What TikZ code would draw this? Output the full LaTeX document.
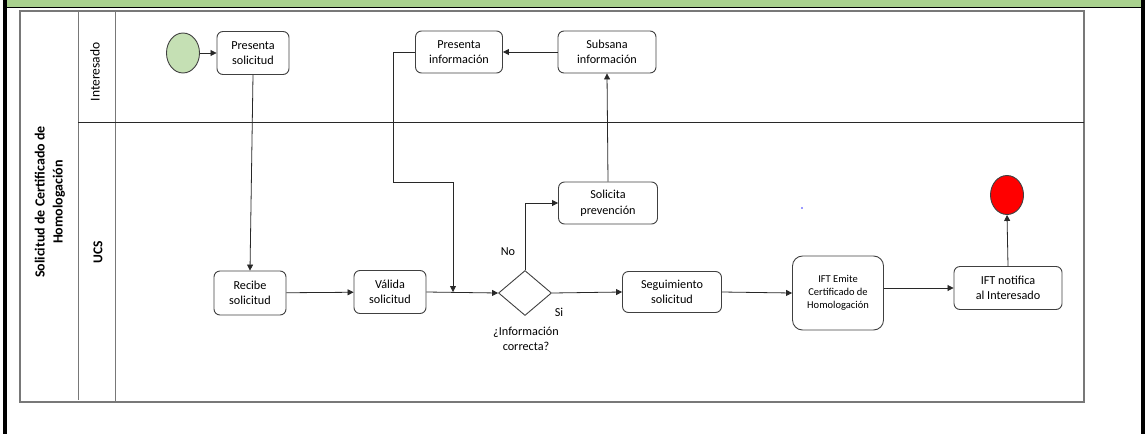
\documentclass[tikz,border=0pt]{standalone}
\usepackage{fontspec}
\setmainfont{Carlito}
\usetikzlibrary{shapes.geometric,arrows.meta}
\definecolor{greenbar}{RGB}{169,209,142}
\definecolor{startgreen}{RGB}{197,224,180}
\definecolor{boxgray}{RGB}{64,64,64}
\definecolor{poolgray}{RGB}{120,120,120}
\definecolor{linegray}{RGB}{40,40,40}
\tikzset{
  task/.style={draw=boxgray, line width=0.9pt, rounded corners=6pt, align=center,
    font=\fontsize{12.2}{15.5}\selectfont, inner sep=0pt},
  smalltask/.style={task, font=\fontsize{10.5}{13.2}\selectfont, rounded corners=10pt},
  conn/.style={draw=linegray, line width=0.8pt, -{Triangle[length=6pt,width=6pt]}},
  lbl/.style={font=\fontsize{12.2}{15}\selectfont, align=center, inner sep=0pt},
}
\begin{document}
\begin{tikzpicture}[x=1pt,y=-1pt]
\useasboundingbox (0,0) rectangle (1145,434);
% frame
\fill[greenbar] (7,0) rectangle (1141,7);
\draw[black, line width=1.3pt] (7,7.3) -- (1141,7.3);
\fill[black] (3,0) rectangle (7,434);
\fill[black] (1141,0) rectangle (1144.5,434);
% pool
\draw[poolgray, line width=1.2pt] (20,11) rectangle (1084,402);
\draw[poolgray, line width=1pt] (78,11) -- (78,400);
\draw[poolgray, line width=1pt] (115,11) -- (115,402);
\draw[linegray, line width=0.9pt] (78,122) -- (1084,122);
\node[rotate=90, font=\bfseries\fontsize{14}{18}\selectfont, align=center] (pool) at (50,202) {Solicitud de Certificado de\\Homologación};
\node[rotate=90, lbl, font=\fontsize{13.5}{15}\selectfont] (lane1) at (95,72) {Interesado};
\node[rotate=90, lbl, font=\bfseries\fontsize{13.5}{15}\selectfont] (lane2) at (98,252) {UCS};
% nodes
\node[ellipse, draw=boxgray, line width=0.9pt, fill=startgreen, minimum width=33pt, minimum height=40pt, inner sep=0pt] (start) at (183,53) {};
\node[task, minimum width=72pt, minimum height=43pt] (psol) at (253,53) {Presenta\\solicitud};
\node[task, minimum width=87pt, minimum height=42pt] (pinf) at (459,52) {Presenta\\información};
\node[task, minimum width=98pt, minimum height=42pt] (sinf) at (607,52) {Subsana\\información};
\node[task, minimum width=99pt, minimum height=42pt] (sprev) at (608,203) {Solicita\\prevención};
\node[task, minimum width=72pt, minimum height=44pt] (rsol) at (250,293) {Recibe\\solicitud};
\node[task, minimum width=72pt, minimum height=43pt] (vsol) at (390,292) {Válida\\solicitud};
\node[diamond, draw=boxgray, line width=0.9pt, minimum width=53pt, minimum height=45pt, inner sep=0pt] (dec) at (525,293) {};
\node[task, minimum width=99pt, minimum height=41pt] (seg) at (672,292) {Seguimiento\\solicitud};
\node[smalltask, minimum width=91pt, minimum height=74pt] (emite) at (838,293) {IFT Emite\\Certificado de\\Homologación};
\node[task, minimum width=108pt, minimum height=43pt] (notif) at (1008,288) {IFT notifica\\al Interesado};
\node[ellipse, draw=boxgray, line width=0.9pt, fill=red, minimum width=33pt, minimum height=39pt, inner sep=0pt] (end) at (1007,195) {};
\fill[blue!80] (802,208) circle (0.9);
% labels
\node[lbl] (no) at (508,252) {No};
\node[lbl] (si) at (559,312) {Si};
\node[lbl] (q) at (526,339) {¿Información\\correcta?};
% connectors
\coordinate (join) at (453,292);
\draw[conn] (start) -- (psol);
\draw[conn] (psol.south) -- (rsol.north);
\draw[conn] (rsol) -- (vsol);
\draw[conn] (vsol.east) -- (dec.west);
\draw[conn] (pinf.west) -- (393,52) -- (393,182) -- (453,182) -- (join);
\draw[conn] (dec.north) -- (525,203) -- (sprev.west);
\draw[conn] (sprev.north) -- (sinf.south);
\draw[conn] (sinf.west) -- (pinf.east);
\draw[conn] (dec.east) -- (seg.west);
\draw[conn] (seg.east) -- (emite.west);
\draw[conn] (emite.east |- notif.west) -- (notif.west);
\draw[conn] (notif.north) -- (end.south);
\end{tikzpicture}
\end{document}
